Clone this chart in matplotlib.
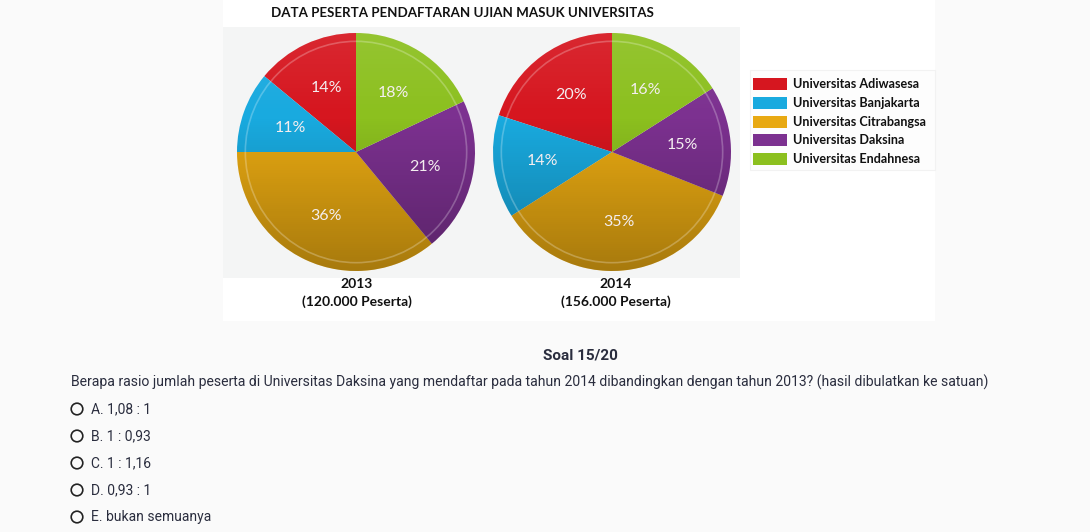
import matplotlib
matplotlib.use("Agg")
import matplotlib.pyplot as plt
import matplotlib.patches as mpatches
import numpy as np

# ---- data ----
universities = ["Universitas Adiwasesa", "Universitas Banjakarta", "Universitas Citrabangsa",
                "Universitas Daksina", "Universitas Endahnesa"]
share_2013 = [14, 11, 36, 21, 18]
share_2014 = [20, 14, 35, 15, 16]
years = ["2013", "2014"]
participants = ["(120.000 Peserta)", "(156.000 Peserta)"]
colors = ["#d6161f", "#19aadf", "#e8a912", "#7c3190", "#8cc01f"]
title = "DATA PESERTA PENDAFTARAN UJIAN MASUK UNIVERSITAS"
question_header = "Soal 15/20"
question = ("Berapa rasio jumlah peserta di Universitas Daksina yang mendaftar pada tahun 2014 "
            "dibandingkan dengan tahun 2013? (hasil dibulatkan ke satuan)")
options = ["A. 1,08 : 1", "B. 1 : 0,93", "C. 1 : 1,16", "D. 0,93 : 1", "E. bukan semuanya"]

W, H = 1090, 532
fig = plt.figure(figsize=(W / 100, H / 100), dpi=100)
fig.patch.set_facecolor("#fafafa")

# page-level axes in pixel coordinates
bg = fig.add_axes([0, 0, 1, 1])
bg.set_xlim(0, W)
bg.set_ylim(H, 0)
bg.axis("off")
bg.add_patch(mpatches.Rectangle((223, 0), 712, 321, facecolor="white", edgecolor="none"))
bg.add_patch(mpatches.Rectangle((223, 27), 517, 251, facecolor="#f4f5f5", edgecolor="none"))

chart_font = ["Lato", "DejaVu Sans"]
bg.text(462, 13, title, ha="center", va="center", fontsize=9.6, fontweight="bold",
        family=chart_font, color="#111111")

# pies
def px_axes(cx, cy, r):
    return fig.add_axes([(cx - r) / W, (H - cy - r) / H, 2 * r / W, 2 * r / H])

grad = np.zeros((256, 1, 4))
t = np.linspace(0, 1, 256)[:, None]
grad[..., 0:3] = np.where(t < 0.35, 1.0, 0.0)[..., None] * np.ones(3)
alpha = np.where(t[:, 0] < 0.35, 0.08 * (0.35 - t[:, 0]) / 0.35, 0.28 * (t[:, 0] - 0.35) / 0.65)
grad[:, 0, 3] = alpha

centers = [(356, 152), (612, 152)]
label_x = [357, 616]
R = 119
for (cx, cy), lx, shares, yr, part in zip(centers, label_x, [share_2013, share_2014], years, participants):
    ax = px_axes(cx, cy, R)
    wedges, texts, autotexts = ax.pie(shares, colors=colors, startangle=90, counterclock=True,
                                      autopct="%d%%", pctdistance=0.59,
                                      textprops=dict(color="#f4eef0", fontsize=11.5, family=chart_font))
    im = ax.imshow(grad, extent=[-1, 1, -1, 1], aspect="auto", zorder=3)
    im.set_clip_path(mpatches.Circle((0, 0), 1, transform=ax.transData))
    ax.add_patch(mpatches.Circle((0, 0), 0.93, fill=False, edgecolor="white", alpha=0.25, lw=1.2, zorder=4))
    for at in autotexts:
        at.set_zorder(5)
    ax.set_xlim(-1, 1)
    ax.set_ylim(-1, 1)
    ax.set_aspect("equal")
    ax.axis("off")
    bg.text(lx, 284, yr, ha="center", va="center", fontsize=10, fontweight="bold",
            family=chart_font, color="#111111")
    bg.text(lx, 302, part, ha="center", va="center", fontsize=10, fontweight="bold",
            family=chart_font, color="#111111")

# legend
bg.add_patch(mpatches.Rectangle((750, 70), 185, 100, facecolor="#fdfdfd", edgecolor="#f2f2f2", lw=0.8))
ys = [84, 103, 122, 140, 159]
for name, c, y in zip(universities, colors, ys):
    bg.add_patch(mpatches.Rectangle((753, y - 6), 34, 12, facecolor=c, edgecolor="none"))
    bg.text(793, y, name, ha="left", va="center", fontsize=9.1, fontweight="bold",
            family=chart_font, color="#111111")

# question area
qcolor = "#2a2d3e"
qfont = ["Roboto", "DejaVu Sans"]
bg.text(580, 355, question_header, ha="center", va="center", fontsize=11, fontweight="bold",
        family=qfont, color=qcolor)
bg.text(71, 382, question, ha="left", va="center", fontsize=10.08,
        family=qfont, color=qcolor)
oys = [409, 436, 463, 490, 517]
for opt, y in zip(options, oys):
    bg.add_patch(mpatches.Circle((77, y), 5.8, fill=False, edgecolor="#222222", lw=1.2))
    bg.text(91, y, opt, ha="left", va="center", fontsize=10,
            family=qfont, color=qcolor)

fig.savefig("out.png", dpi=100, facecolor=fig.get_facecolor())
